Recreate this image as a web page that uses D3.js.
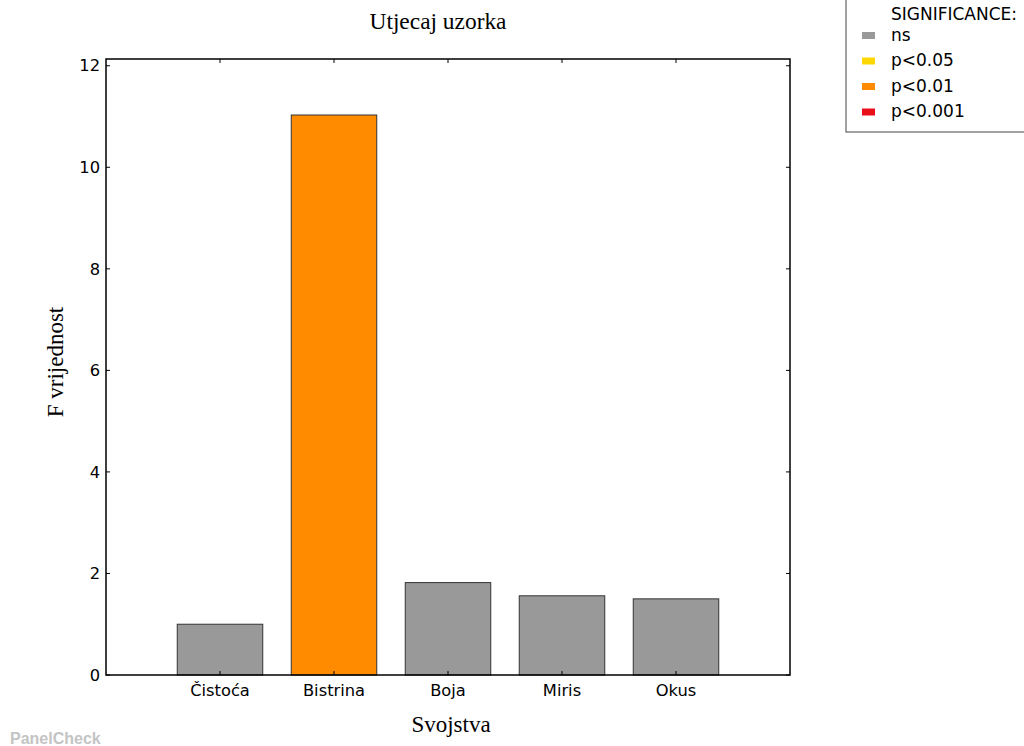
<!DOCTYPE html>
<html><head><meta charset="utf-8">
<script src="https://cdnjs.cloudflare.com/ajax/libs/d3/7.8.5/d3.min.js"></script>
<style>body{margin:0;background:#fff}svg{display:block}</style>
</head><body>
<script>
const categories = ["Čistoća","Bistrina","Boja","Miris","Okus"];
const values = [1.00, 11.03, 1.82, 1.56, 1.50];
const significance = ["ns","p<0.01","ns","ns","ns"];
const legendLabels = ["ns","p<0.05","p<0.01","p<0.001"];
const legendColors = ["#999999","#FFD700","#FF8C00","#E8101A"];
const yTicks = [0,2,4,6,8,10,12];

const W=1024,H=746;
const svg=d3.select("body").append("svg").attr("width",W).attr("height",H);
const L=106,R=790,T=59,B=675;
const SANS="'DejaVu Sans', sans-serif", SERIF="'Liberation Serif', serif";
const color=d3.scaleOrdinal().domain(legendLabels).range(legendColors);
const x=d3.scaleLinear().domain([0,categories.length+1]).range([L,R]);
const y=d3.scaleLinear().domain([0,d3.max(values)*1.1]).range([B,T]);
const bw=0.75;

svg.selectAll("rect.bar").data(values).enter().append("rect").attr("class","bar")
 .attr("x",(d,i)=>x(i+1-bw/2)).attr("width",x(bw)-x(0))
 .attr("y",d=>y(d)).attr("height",d=>y(0)-y(d))
 .attr("fill",(d,i)=>color(significance[i])).attr("stroke","#333").attr("stroke-width",1);

svg.append("rect").attr("x",L).attr("y",T).attr("width",R-L).attr("height",B-T)
 .attr("fill","none").attr("stroke","#000").attr("stroke-width",1.5);

const tl=4;
const gy=svg.append("g");
yTicks.forEach(t=>{
  gy.append("line").attr("x1",L).attr("x2",L+tl).attr("y1",y(t)).attr("y2",y(t)).attr("stroke","#000");
  gy.append("line").attr("x1",R).attr("x2",R-tl).attr("y1",y(t)).attr("y2",y(t)).attr("stroke","#000");
  gy.append("text").attr("x",L-6).attr("y",y(t)).attr("dy","0.35em").attr("text-anchor","end")
   .attr("font-family",SANS).attr("font-size",16.3).attr("fill","#000").text(t);
});
categories.forEach((c,i)=>{
  const xx=x(i+1);
  svg.append("line").attr("x1",xx).attr("x2",xx).attr("y1",B).attr("y2",B-tl).attr("stroke","#000");
  svg.append("line").attr("x1",xx).attr("x2",xx).attr("y1",T).attr("y2",T+tl).attr("stroke","#000");
  svg.append("text").attr("x",xx).attr("y",B+21).attr("text-anchor","middle")
   .attr("font-family",SANS).attr("font-size",16.3).attr("fill","#000").text(c);
});

svg.append("text").attr("x",438).attr("y",29).attr("text-anchor","middle")
 .attr("font-family",SERIF).attr("font-size",23.4).text("Utjecaj uzorka");
svg.append("text").attr("x",451).attr("y",732).attr("text-anchor","middle")
 .attr("font-family",SERIF).attr("font-size",23).text("Svojstva");
svg.append("text").attr("transform",`translate(63,362) rotate(-90)`).attr("text-anchor","middle")
 .attr("font-family",SERIF).attr("font-size",23).text("F vrijednost");

const lg=svg.append("g");
lg.append("rect").attr("x",846).attr("y",-5).attr("width",190).attr("height",137)
 .attr("fill","#fff").attr("stroke","#444").attr("stroke-width",1);
lg.append("text").attr("x",891).attr("y",20).attr("font-family",SANS).attr("font-size",17).text("SIGNIFICANCE:");
legendLabels.forEach((l,i)=>{
  const yy=35+i*25.5;
  lg.append("rect").attr("x",862).attr("y",yy-3).attr("width",13).attr("height",7).attr("fill",legendColors[i]);
  lg.append("text").attr("x",891).attr("y",yy).attr("dy","0.35em").attr("font-family",SANS).attr("font-size",17).text(l);
});

svg.append("text").attr("x",10).attr("y",744).attr("font-family","'Liberation Sans', sans-serif").attr("font-weight","bold")
 .attr("font-size",16).attr("fill","#c4c4c4").text("PanelCheck");
</script>
</body></html>
